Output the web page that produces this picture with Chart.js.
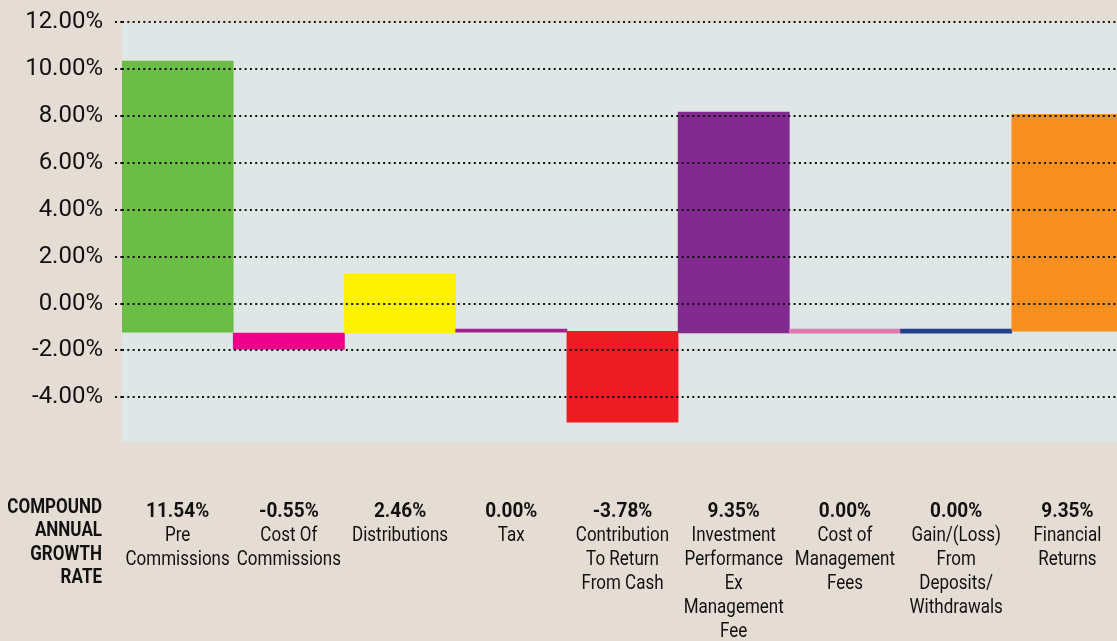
<!DOCTYPE html>
<html>
<head>
<meta charset="utf-8">
<script src="https://cdn.jsdelivr.net/npm/chart.js@4.4.0/dist/chart.umd.min.js"></script>
<style>
  html, body { margin: 0; padding: 0; background: #e5ddd4; overflow: hidden; }
  #wrap { width: 1123px; height: 641px; position: relative; }
</style>
</head>
<body>
<div id="wrap"><canvas id="growth-chart"></canvas></div>
<script>
// category names (multi-line) and the growth rate printed above each
const categories = [
  ['Pre', 'Commissions'],
  ['Cost Of', 'Commissions'],
  ['Distributions'],
  ['Tax'],
  ['Contribution', 'To Return', 'From Cash'],
  ['Investment', 'Performance', 'Ex', 'Management', 'Fee'],
  ['Cost of', 'Management', 'Fees'],
  ['Gain/(Loss)', 'From', 'Deposits/', 'Withdrawals'],
  ['Financial', 'Returns']
];
const rateLabels = ['11.54%', '-0.55%', '2.46%', '0.00%', '-3.78%', '9.35%', '0.00%', '0.00%', '9.35%'];
const rowTitle = ['COMPOUND', 'ANNUAL', 'GROWTH', 'RATE'];

// floating bars (in %)
const barStart = [-1.22, -1.26, -1.25, -1.22, -1.18, -1.25, -1.26, -1.26, -1.18];
const barEnd   = [10.33, -1.94,  1.28, -1.09, -5.05,  8.16, -1.09, -1.09,  8.07];
const barColors = ['#6cbd45', '#ec008c', '#fff200', '#a3218e', '#ed1c24', '#822a8f', '#df7bb0', '#21408e', '#f7901e'];

const FONT = 'Roboto, "Liberation Sans", sans-serif';

const plotBackground = {
  id: 'plotBackground',
  beforeDraw(chart) {
    const { ctx, chartArea: a } = chart;
    ctx.save();
    ctx.fillStyle = '#dfe6e6';
    ctx.fillRect(a.left, a.top, a.right - a.left, a.bottom - a.top);
    ctx.restore();
  }
};

// squeeze text horizontally to look like a condensed face
function narrowText(ctx, text, x, y, sx) {
  ctx.save();
  ctx.translate(x, y);
  ctx.scale(sx, 1);
  ctx.fillText(text, 0, 0);
  ctx.restore();
}

const rateTable = {
  id: 'rateTable',
  afterDraw(chart) {
    const ctx = chart.ctx;
    const xs = chart.scales.x;
    const top = chart.chartArea.bottom + 70;
    ctx.save();
    ctx.fillStyle = '#111';
    ctx.textBaseline = 'middle';
    ctx.textAlign = 'center';
    categories.forEach((lines, i) => {
      const cx = xs.getPixelForValue(i);
      ctx.font = 'bold 20px ' + FONT;
      narrowText(ctx, rateLabels[i], cx, top, 0.95);
      ctx.font = '20px ' + FONT;
      lines.forEach((line, k) => narrowText(ctx, line, cx, top + 24 * (k + 1), 0.85));
    });
    ctx.textAlign = 'right';
    ctx.font = 'bold 20px ' + FONT;
    rowTitle.forEach((line, k) => narrowText(ctx, line, chart.chartArea.left - 20, top - 4.5 + 23.5 * k, 0.85));
    ctx.restore();
  }
};

const ctx = document.getElementById('growth-chart').getContext('2d');
new Chart(ctx, {
  type: 'bar',
  data: {
    labels: categories.map(c => c.join(' ')),
    datasets: [{
      data: barStart.map((s, i) => [s, barEnd[i]]),
      backgroundColor: barColors,
      borderWidth: 0,
      categoryPercentage: 1,
      barPercentage: 1
    }]
  },
  options: {
    responsive: true,
    maintainAspectRatio: false,
    animation: false,
    layout: { padding: { top: 22, bottom: 199, left: 0, right: 0 } },
    plugins: { legend: { display: false }, tooltip: { enabled: false } },
    scales: {
      x: { display: false },
      y: {
        min: -5.9,
        max: 12,
        afterFit(scale) {
          scale.width = 122;
          scale.paddingTop = 0;
          scale.paddingBottom = 0;
        },
        border: { display: false, dash: [2, 3.33] },
        grid: {
          z: 1,
          color: '#111',
          lineWidth: 2,
          tickBorderDash: [2, 3.33],
          tickColor: '#111',
          tickLength: 7
        },
        ticks: {
          stepSize: 2,
          includeBounds: false,
          padding: 12,
          color: '#111',
          font: { family: FONT, size: 24 },
          callback: v => v.toFixed(2) + '%'
        }
      }
    }
  },
  plugins: [plotBackground, rateTable]
});
</script>
</body>
</html>
